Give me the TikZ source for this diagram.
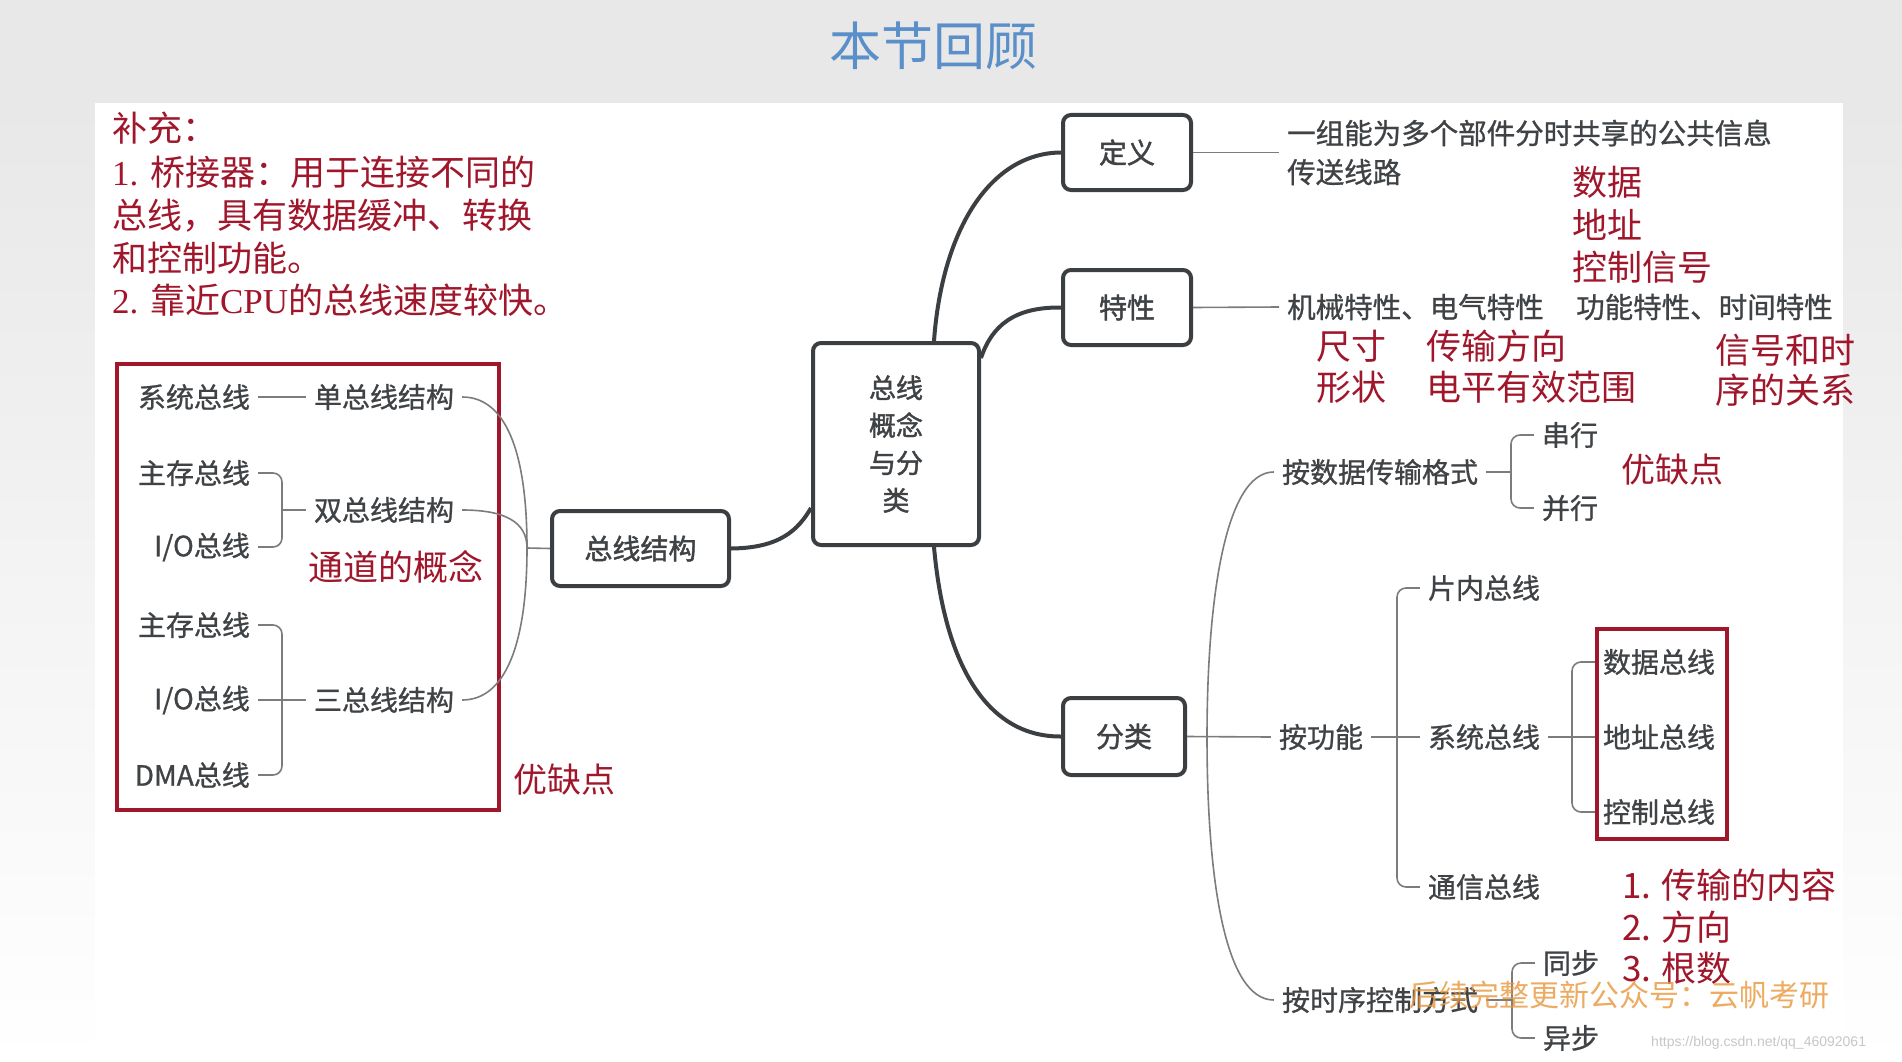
\documentclass[tikz,border=0pt]{standalone}
\usepackage{fontspec}
\setmainfont{Noto Sans CJK SC}
\newfontfamily\medfont[FakeBold=0.9]{Noto Sans CJK SC}
\newfontfamily\boxfont[FakeBold=1.6]{Noto Sans CJK SC}
\newfontfamily\lser{Liberation Serif}
\newfontfamily\lsans{Liberation Sans}
\usetikzlibrary{calc}
\definecolor{tgray}{HTML}{404346}
\definecolor{bgray}{HTML}{3C3F42}
\definecolor{lgray}{HTML}{7C7C7C}
\definecolor{rred}{HTML}{A0162B}
\definecolor{ttl}{HTML}{5B8FC9}
\definecolor{wmor}{HTML}{E8963A}
\definecolor{bgg}{HTML}{E8E8E8}
\begin{document}
\begin{tikzpicture}[x=1pt,y=-1pt,
  gt/.style={font=\medfont\fontsize{28}{34}\selectfont, text=tgray, inner xsep=8pt, inner ysep=2pt},
  rt/.style={font=\fontsize{35}{42}\selectfont, text=rred, inner sep=0pt, anchor=west},
  mbox/.style={draw=bgray, line width=4pt, rounded corners=8pt, fill=white,
    font=\boxfont\fontsize{28}{34}\selectfont, text=tgray, inner sep=0pt},
  thinline/.style={draw=lgray, line width=1.6pt},
  thickline/.style={draw=bgray, line width=4pt},
  brk/.style={thinline, rounded corners=9pt}]
\useasboundingbox (0,0) rectangle (1902,1062);
% background
\fill[bgg] (0,0) rectangle (1902,1062);
\shade[top color=bgg, bottom color=white] (0,103) rectangle (95,1062);
\shade[top color=bgg, bottom color=white] (1843,103) rectangle (1902,1062);
\fill[white] (95,103) rectangle (1843,1062);
% title
\node[font=\fontsize{52}{60}\selectfont, text=ttl] (title) at (933,46) {本节回顾};
% top-left note
\node[rt] (bc0) at (112,128) {补充：};
\node[rt] (bc1) at (112,172) {{\lser 1. }桥接器：用于连接不同的};
\node[rt] (bc2) at (112,216) {总线，具有数据缓冲、转换};
\node[rt] (bc3) at (112,258) {和控制功能。};
\node[rt] (bc4) at (112,300) {{\lser 2. }靠近{\lser CPU}的总线速度较快。};
% left red frame
\draw[rred, line width=3.5pt] (117,364) rectangle (499,810);
\node[gt] (sysA) at (194,397) {系统总线};
\node[gt] (dan) at (384,397) {单总线结构};
\node[gt] (zhuA) at (194,473) {主存总线};
\node[gt, anchor=east] (ioA) at (258,547) {I/O总线};
\node[gt] (shuang) at (384,510) {双总线结构};
\node[rt, anchor=center] (tongdao) at (396,567) {通道的概念};
\node[gt] (zhuB) at (194,625) {主存总线};
\node[gt, anchor=east] (ioB) at (258,700) {I/O总线};
\node[gt, anchor=east] (dma) at (258,775) {DMA总线};
\node[gt] (san) at (384,700) {三总线结构};
\node[rt, anchor=center, font=\fontsize{34}{40}\selectfont] (yq1) at (564,780) {优缺点};
\draw[thinline] (sysA.east) -- (dan.west);
\coordinate (b1) at (282,510);
\draw[brk] (zhuA.east) -| (b1) |- (ioA.east);
\draw[thinline] (b1) -- (shuang.west);
\coordinate (b2) at (282,700);
\draw[brk] (zhuB.east) -| (b2) |- (dma.east);
\draw[thinline] (ioB.east) -- (san.west);
% main boxes
\node[mbox, minimum width=177pt, minimum height=75pt] (jg) at (640.5,548.5) {总线结构};
\node[mbox, minimum width=166pt, minimum height=202pt, align=center,
  font=\boxfont\fontsize{27}{37.5}\selectfont] (gn) at (896,444) {总线\\概念\\与分\\类};
\node[mbox, minimum width=128pt, minimum height=75pt] (dy) at (1127,152.5) {定义};
\node[mbox, minimum width=128pt, minimum height=75pt] (tx) at (1127,307.5) {特性};
\node[mbox, minimum width=122pt, minimum height=77pt] (fl) at (1124,736.5) {分类};
% left curves to 总线结构
\coordinate (J1) at (527,548);
\draw[thinline] (dan.east) .. controls (505,397) and (527,450) .. (J1);
\draw[thinline] (shuang.east) .. controls (505,510) and (527,522) .. (J1);
\draw[thinline] (san.east) .. controls (505,700) and (527,645) .. (J1);
\draw[thinline] (J1) -- (jg.west);
% thick branches
\draw[thickline] (jg.east) .. controls (780,548) and (798,530) .. ([yshift=-64pt]gn.west);
\draw[thickline] ([xshift=38pt]gn.north) .. controls (942,230) and (990,153) .. (dy.west);
\draw[thickline] ([yshift=-17pt]gn.north east) .. controls (992,325) and (1015,307) .. (tx.west);
\draw[thickline] ([xshift=38pt]gn.south) .. controls (945,670) and (990,737) .. (fl.west);
% definition
\node[gt, anchor=west, align=left, font=\medfont\fontsize{28.5}{39}\selectfont] (dtext) at (1279,152.5)
  {一组能为多个部件分时共享的公共信息\\传送线路};
\draw[thinline] (dy.east) -- (dtext.west);
% characteristics
\node[gt, anchor=west, font=\medfont\fontsize{28.5}{34}\selectfont] (t1) at (1279,307) {机械特性、电气特性};
\node[gt, anchor=west, inner xsep=0pt, font=\medfont\fontsize{28.5}{34}\selectfont] (t2) at (1576,307) {功能特性、时间特性};
\draw[thinline] (tx.east) -- (t1.west);
\node[rt] (r1) at (1572,182) {数据};
\node[rt] (r2) at (1572,225) {地址};
\node[rt] (r3) at (1572,267) {控制信号};
\node[rt] (r4) at (1316,346) {尺寸};
\node[rt] (r5) at (1316,387) {形状};
\node[rt] (r6) at (1426,346) {传输方向};
\node[rt] (r7) at (1426,387) {电平有效范围};
\node[rt] (r8) at (1715,350) {信号和时};
\node[rt] (r9) at (1715,390) {序的关系};
% classification
\node[gt] (ans) at (1380,472) {按数据传输格式};
\node[gt] (agn) at (1321,737) {按功能};
\node[gt] (asx) at (1380,1000) {按时序控制方式};
\coordinate (J2) at (1207,737);
\draw[thinline] (fl.east) -- (agn.west);
\draw[thinline] (ans.west) .. controls (1225,472) and (1207,600) .. (J2)
  .. controls (1207,880) and (1225,1000) .. (asx.west);
% serial / parallel
\node[gt] (chuan) at (1570,435) {串行};
\node[gt] (bing) at (1570,508) {并行};
\coordinate (b3) at (1511,472);
\draw[thinline] (ans.east) -- (b3);
\draw[brk] (chuan.west) -| (b3) |- (bing.west);
\node[rt, anchor=center, font=\fontsize{34}{40}\selectfont] (yq2) at (1672,470) {优缺点};
% by function
\node[gt] (pn) at (1484,588) {片内总线};
\node[gt] (sys2) at (1484,737) {系统总线};
\node[gt] (txb) at (1484,887) {通信总线};
\coordinate (b4) at (1397,737);
\draw[thinline] (agn.east) -- (sys2.west);
\draw[brk] (pn.west) -| (b4) |- (txb.west);
\draw[rred, line width=3.5pt] (1597,629) rectangle (1727,839);
\node[gt] (sj) at (1659,662) {数据总线};
\node[gt] (dz) at (1659,737) {地址总线};
\node[gt] (kz) at (1659,812) {控制总线};
\coordinate (b5) at (1572,737);
\draw[thinline] (sys2.east) -- (dz.west);
\draw[brk] (sj.west) -| (b5) |- (kz.west);
\node[rt] (l1) at (1622,885) {1. 传输的内容};
\node[rt] (l2) at (1622,927) {2. 方向};
\node[rt] (l3) at (1622,968) {3. 根数};
% timing
\node[gt] (tb) at (1571,963) {同步};
\node[gt] (yb) at (1571,1038) {异步};
\coordinate (b6) at (1512,1000);
\draw[thinline] (asx.east) -- (b6);
\draw[brk] (tb.west) -| (b6) |- (yb.west);
% watermarks
\node[anchor=west, inner sep=0pt, font=\fontsize{30}{34}\selectfont, text=wmor, text opacity=0.8] (wm) at (1409,995) {后续完整更新公众号：云帆考研};
\node[anchor=west, inner sep=0pt, font=\lsans\fontsize{14}{16}\selectfont, text=black!22] (url) at (1651,1043) {https://blog.csdn.net/qq\_46092061};
\end{tikzpicture}
\end{document}
